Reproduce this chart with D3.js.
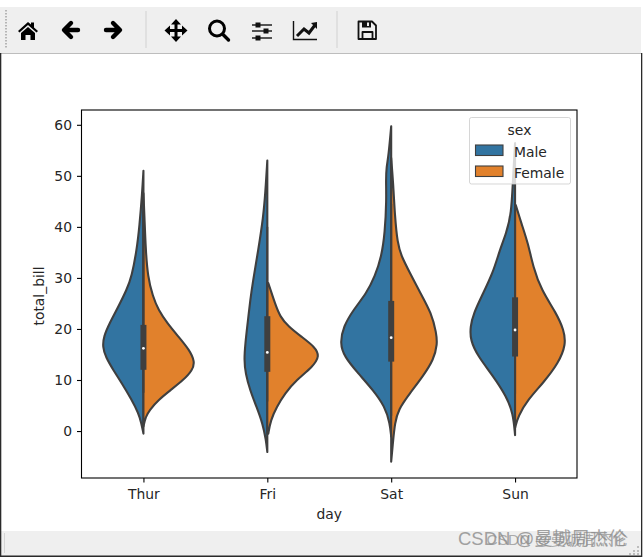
<!DOCTYPE html>
<html><head><meta charset="utf-8">
<script src="https://cdn.jsdelivr.net/npm/d3@7/dist/d3.min.js"></script>
<style>html,body{margin:0;padding:0;background:#fff;overflow:hidden}svg{display:block}text{font-family:"DejaVu Sans";fill:#262626}</style>
</head><body><svg id="c" width="644" height="557"></svg>
<script>
const days = ["Thur","Fri","Sat","Sun"];
const sexes = ["Male","Female"];
const colors = ["#3274a1","#e1812c"];
const yTicks = [0,10,20,30,40,50,60];

const thurMaleBill = [51,46.6,40.1,35.5,30.3,27.7,24.4,21.1,18.5,16.5,14.5,11.9,9.4,6.1,3.5,1.5,-0.5];
const thurMaleDens = [0,.0013,.004,.0067,.0117,.0167,.025,.034,.0398,.0408,.0378,.03,.0217,.0117,.005,.002,0];
const thurFemaleBill = [46.6,42,35.5,30.3,26.4,23.7,21.1,18.5,15.9,13.6,11.9,10,8,6.1,4.1,2.8,0.9];
const thurFemaleDens = [0,.001,.0023,.0043,.0093,.015,.024,.035,.046,.0515,.049,.04,.027,.015,.006,.0023,0];
const friMaleBill = [53,46.6,42,35.5,29,25.7,21.1,17.2,13.9,11.3,8,4.7,1.5,-1.8,-4.1];
const friMaleDens = [0,.002,.004,.009,.0147,.017,.0197,.022,.0232,.0218,.0173,.0107,.0047,.0013,0];
const friFemaleBill = [29,27.6,25,22.4,20.5,18.5,16.5,14.7,12.6,10,7.4,4.7,2.1,-0.5];
const friFemaleDens = [.001,.0033,.0077,.0127,.021,.034,.0475,.0525,.0455,.029,.0177,.0093,.0033,.001];
const satMaleBill = [59.7,53.8,51.8,49.2,45.3,38.8,34.2,30.3,27,23.7,20.5,17.2,14.6,11.3,8,4.8,1.5,-1.1];
const satMaleDens = [0,.0027,.0047,.0053,.0047,.0063,.0097,.0163,.0247,.038,.0478,.0512,.047,.033,.018,.0063,.0013,0];
const satFemaleBill = [53.5,48.6,42.1,36.8,34.2,31,27,23.1,19.2,17,14,10.8,7.4,4.2,1.5,-1.7,-6];
const satFemaleDens = [0,.002,.0037,.0063,.0103,.0187,.0293,.0403,.0452,.0462,.0425,.032,.0187,.007,.0037,.002,0];
const sunMaleBill = [56.4,48.6,42.7,38.8,35.5,31,26.3,23.1,20.5,17.8,14.6,10.8,6.8,3.5,-0.8];
const sunMaleDens = [0,.0023,.0037,.0087,.0153,.022,.0337,.0413,.0448,.0448,.037,.022,.0087,.002,0];
const sunFemaleBill = [44.3,40.7,36.8,32.2,27.6,23.1,19.8,17,13.3,9.4,6.2,2.9,0.6];
const sunFemaleDens = [.0007,.0063,.013,.018,.0263,.0413,.0488,.051,.0435,.028,.013,.003,0];

const q1 = [12,11.6,13.6,14.6];
const medians = [16.2,15.4,18.3,19.8];
const q3 = [20.8,22.5,25.5,26.2];
const whiskLow = [7.5,5.8,3,7.3];
const whiskHigh = [43,40,44.5,44];

const violins = [
 [[thurMaleBill,thurMaleDens],[thurFemaleBill,thurFemaleDens]],
 [[friMaleBill,friMaleDens],[friFemaleBill,friFemaleDens]],
 [[satMaleBill,satMaleDens],[satFemaleBill,satFemaleDens]],
 [[sunMaleBill,sunMaleDens],[sunFemaleBill,sunFemaleDens]]
];

const svg = d3.select("#c");
const L=81.5,R=577,T=110,B=478;
const FS=13.9;
const x = d3.scaleLinear().domain([-0.5,3.5]).range([L,R]);
const y = d3.scaleLinear().domain([-9.2,62.9]).range([B,T]);
const w = d3.scaleLinear().domain([0,0.05]).range([0,50/123.9]);
const dark="#3f3f3f";

/* window chrome */
const chrome = svg.append("g");
chrome.append("rect").attr("x",0).attr("y",7).attr("width",644).attr("height",46).attr("fill","#efefef");
chrome.append("rect").attr("x",0).attr("y",53).attr("width",644).attr("height",1).attr("fill","#bdbdbd");
chrome.append("rect").attr("x",0).attr("y",531).attr("width",644).attr("height",25).attr("fill","#efefef");
chrome.append("rect").attr("x",0).attr("y",53).attr("width",1.3).attr("height",504).attr("fill","#2a2a2a");
chrome.append("rect").attr("x",0).attr("y",555.5).attr("width",644).attr("height",1.5).attr("fill","#2a2a2a");
chrome.append("rect").attr("x",641).attr("y",0).attr("width",3).attr("height",557).attr("fill","#fff");
chrome.append("rect").attr("x",641).attr("y",53).attr("width",1.3).attr("height",504).attr("fill","#2a2a2a");
chrome.append("rect").attr("x",4).attr("y",533).attr("width",1).attr("height",20).attr("fill","#d4d4d4");
[145.5,336.5].forEach(p=>chrome.append("rect").attr("x",p).attr("y",11).attr("width",1).attr("height",37).attr("fill","#d2d2d2"));
d3.range(10,48,3).forEach(p=>chrome.append("rect").attr("x",5).attr("y",p).attr("width",2).attr("height",1.5).attr("fill","#b5b5b5"));
[[638,546],[634,550],[638,550],[630,553],[634,553],[638,553]].forEach(d=>chrome.append("rect").attr("x",d[0]-1).attr("y",d[1]).attr("width",2).attr("height",2).attr("fill","#bdbdbd"));

const ic = chrome.append("g");
ic.append("path").attr("fill","#000").attr("d","M18 31 L28 22 L31 24.5 V22.5 H34 V27.5 L38 31 L36.5 32.5 L28 25 L19.5 32.5 Z M21 33 L28 27 L35 33 V40 H30.5 V35 H25.5 V40 H21 Z");
ic.append("path").attr("fill","none").attr("stroke","#000").attr("stroke-width",4.4).attr("stroke-linecap","round").attr("stroke-linejoin","round").attr("d","M78 30 H65 M71 23 L64 30 L71 37");
ic.append("path").attr("fill","none").attr("stroke","#000").attr("stroke-width",4.4).attr("stroke-linecap","round").attr("stroke-linejoin","round").attr("d","M106 30 H119 M113 23 L120 30 L113 37");
ic.append("path").attr("fill","none").attr("stroke","#000").attr("stroke-width",3).attr("d","M176 23 V37 M169 30.5 H183");
ic.append("path").attr("fill","#000").attr("d","M176 19 L181 24.5 H171 Z M176 42 L181 36.5 H171 Z M164.5 30.5 L170 25.5 V35.5 Z M187.5 30.5 L182 25.5 V35.5 Z");
ic.append("circle").attr("cx",217).attr("cy",28.5).attr("r",7.5).attr("fill","none").attr("stroke","#000").attr("stroke-width",3);
ic.append("path").attr("stroke","#000").attr("stroke-width",3.4).attr("stroke-linecap","round").attr("d","M223 34.5 L228.5 40");
ic.append("path").attr("stroke","#222").attr("stroke-width",1.5).attr("d","M252 25 H272 M252 31 H272 M252 38 H272");
[[258,25],[266,31],[258,38]].forEach(d=>ic.append("rect").attr("x",d[0]-2.5).attr("y",d[1]-2.5).attr("width",5).attr("height",5).attr("fill","#111"));
ic.append("path").attr("fill","none").attr("stroke","#111").attr("stroke-width",1.4).attr("d","M293.5 21 V39.5 H317");
ic.append("path").attr("fill","none").attr("stroke","#111").attr("stroke-width",3).attr("d","M297 36 L304 29 L309 33 L315 25");
ic.append("path").attr("fill","#111").attr("d","M311 23 L317 22 L317 29 Z");
ic.append("path").attr("fill","none").attr("stroke","#111").attr("stroke-width",1.8).attr("stroke-linejoin","round").attr("d","M358.5 21.5 H372 L376 25.5 V39 H358.5 Z M362.5 39 V32 H372.5 V39");
ic.append("path").attr("fill","#111").attr("d","M362 21.5 H371 V27.5 H362 Z");
ic.append("rect").attr("x",367).attr("y",22.5).attr("width",2).attr("height",3.5).attr("fill","#efefef");

/* violins */
const area = d3.line().curve(d3.curveBasis);
violins.forEach((pair,i)=>{
  pair.forEach((v,s)=>{
    const sign = s===0?-1:1;
    const pts = v[0].map((b,k)=>[x(i+sign*w(v[1][k])),y(b)]);
    const top=[x(i),y(v[0][0])], bot=[x(i),y(v[0][v[0].length-1])];
    const d = area(pts);
    svg.append("path").attr("d",d+"L"+bot[0]+","+bot[1]+"L"+top[0]+","+top[1]+"Z")
      .attr("fill",colors[s]).attr("stroke",dark).attr("stroke-width",2.1).attr("stroke-linejoin","round");
  });
});
days.forEach((d,i)=>{
  svg.append("line").attr("x1",x(i)).attr("x2",x(i)).attr("y1",y(whiskLow[i])).attr("y2",y(whiskHigh[i])).attr("stroke",dark).attr("stroke-width",2);
  svg.append("line").attr("x1",x(i)).attr("x2",x(i)).attr("y1",y(q1[i])).attr("y2",y(q3[i])).attr("stroke",dark).attr("stroke-width",6);
  svg.append("circle").attr("cx",x(i)).attr("cy",y(medians[i])).attr("r",1.4).attr("fill","#fff");
});

/* axes */
const xAxis = svg.append("g").attr("transform",`translate(0,${B})`).call(d3.axisBottom(x).tickValues(d3.range(days.length)).tickFormat(i=>days[i]).tickSizeOuter(0).tickSize(4.5).tickPadding(7));
const yAxis = svg.append("g").attr("transform",`translate(${L},0)`).call(d3.axisLeft(y).tickValues(yTicks).tickSizeOuter(0).tickSize(4.5).tickPadding(5));
[xAxis,yAxis].forEach(a=>{a.selectAll("text").style("font-family","DejaVu Sans").style("font-size",FS+"px");a.select(".domain").remove();a.selectAll("line").attr("stroke","#000").attr("stroke-width",1.1);});
svg.append("rect").attr("x",L).attr("y",T).attr("width",R-L).attr("height",B-T).attr("fill","none").attr("stroke","#000").attr("stroke-width",1.1);
svg.append("text").attr("x",(L+R)/2).attr("y",519).attr("text-anchor","middle").attr("font-size",FS).text("day");
svg.append("text").attr("transform","translate(43.5,296) rotate(-90)").attr("text-anchor","middle").attr("font-size",FS).text("total_bill");

/* legend */
const lg = svg.append("g");
lg.append("rect").attr("x",469.5).attr("y",117.5).attr("width",101).attr("height",66.5).attr("rx",2).attr("fill","#fff").attr("fill-opacity",0.8).attr("stroke","#ccc").attr("stroke-opacity",0.8);
lg.append("text").attr("x",519.5).attr("y",135).attr("text-anchor","middle").attr("font-size",FS).text("sex");
sexes.forEach((s,i)=>{
  const py=145+i*21;
  lg.append("rect").attr("x",475.5).attr("y",py).attr("width",27.5).attr("height",10.5).attr("fill",colors[i]).attr("stroke",dark).attr("stroke-width",1.1);
  lg.append("text").attr("x",514).attr("y",py+11.5).attr("font-size",FS).text(s);
});

/* watermarks */
const wm = "CSDN @曼城周杰伦";
svg.append("text").attr("x",458).attr("y",545).style("font-family","'Liberation Sans','Noto Sans CJK SC'").style("fill","#a0a0a0").attr("font-size",18.5).text(wm);
svg.append("text").attr("x",628).attr("y",545).attr("text-anchor","end").style("font-family","'Liberation Sans','Noto Sans CJK SC'").style("fill","#8c8c8c").attr("fill-opacity",.7).attr("font-size",15.5).text(wm);
</script></body></html>
